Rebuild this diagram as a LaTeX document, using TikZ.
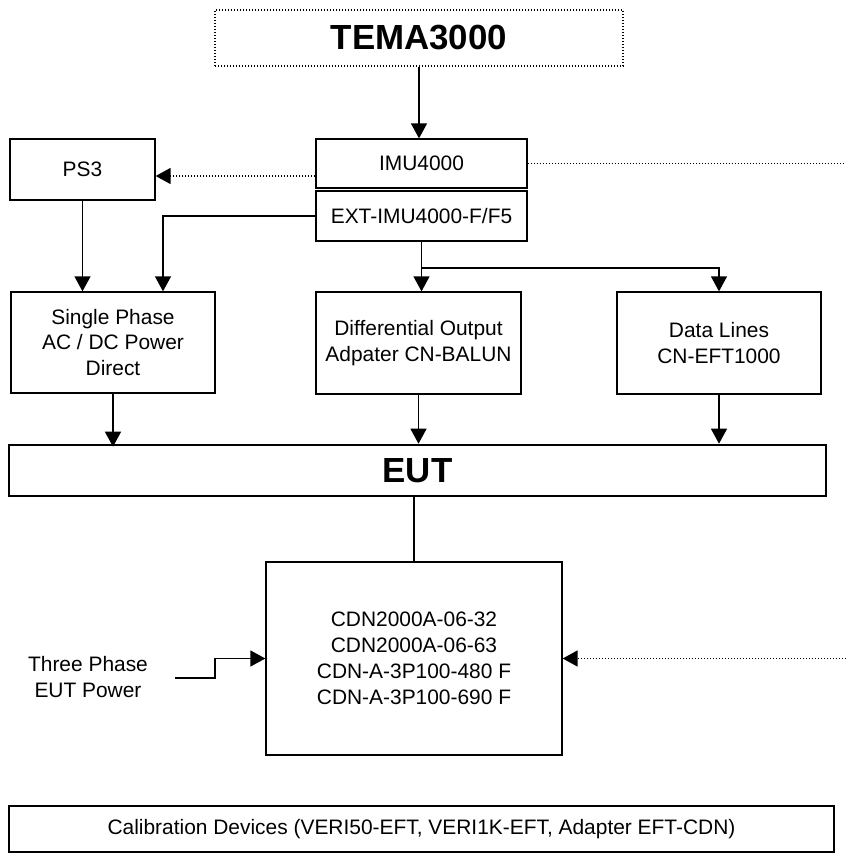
\documentclass[tikz,border=0pt]{standalone}
\usepackage{fontspec}
\setmainfont{Liberation Sans}
\usetikzlibrary{arrows.meta}
\begin{document}
\begin{tikzpicture}[x=1bp,y=-1bp,
  box/.style={draw,line width=1.3bp,inner sep=0pt,align=center,font=\fontsize{21}{26}\selectfont},
  bigtext/.style={font=\fontsize{35}{40}\selectfont\bfseries},
  arr/.style={line width=1.3bp,-{Triangle[width=16bp,length=15bp]}},
  dotln/.style={line width=1.5bp,dash pattern=on 1.4bp off 1.6bp},
  dotarr/.style={dotln,-{Triangle[width=16bp,length=15bp]}},
  plain/.style={line width=1.3bp}
]
\useasboundingbox (0,0) rectangle (846,854);

\node[box,dotln,bigtext,minimum width=408bp,minimum height=56bp] (TEMA) at (419,38) {TEMA3000};
\node[box,minimum width=211bp,minimum height=49bp] (IMU) at (421.5,163.5) {IMU4000};
\node[box,minimum width=211bp,minimum height=50bp] (EXT) at (421.5,216) {EXT-IMU4000-F/F5};
\node[box,minimum width=145bp,minimum height=61bp] (PS3) at (82.5,169.5) {PS3};
\node[box,minimum width=204bp,minimum height=101bp] (Single) at (113,342.5) {Single Phase\\AC / DC Power\\Direct};
\node[box,minimum width=205bp,minimum height=102bp] (Diff) at (418.5,343) {Differential Output\\Adpater CN-BALUN};
\node[box,minimum width=204bp,minimum height=102bp] (Data) at (719,343) {Data Lines\\CN-EFT1000};
\node[box,bigtext,line width=2.6bp,minimum width=817bp,minimum height=51bp] (EUT) at (417.5,470.5) {EUT};
\node[box,minimum width=296bp,minimum height=193bp] (CDN) at (414,658.5) {CDN2000A-06-32\\CDN2000A-06-63\\CDN-A-3P100-480 F\\CDN-A-3P100-690 F};
\node[align=center,inner sep=0pt,font=\fontsize{21}{26}\selectfont] (Three) at (88,677) {Three Phase\\EUT Power};
\node[box,minimum width=825bp,minimum height=46bp] (Cal) at (421.5,829) {Calibration Devices (VERI50-EFT, VERI1K-EFT, Adapter EFT-CDN)};

\coordinate (imuR) at (846,163.5);
\coordinate (cdnR) at (846,658.5);
\coordinate (tp) at (175,678);
\coordinate (tk) at (215,678);
\coordinate (extL) at (163,216);
\coordinate (psy) at (0,176);
\coordinate (bry) at (0,268);

\draw[arr] (TEMA.south) -- (TEMA.south |- IMU.north);
\draw[dotln] (IMU.east) -- (imuR);
\draw[dotarr] (IMU.west |- psy) -- (PS3.east |- psy);
\draw[arr] (PS3.south) -- (PS3.south |- Single.north);
\draw[arr] (EXT.west) -- (extL) -- (extL |- Single.north);
\draw[arr] (EXT.south) -- (EXT.south |- Diff.north);
\draw[arr] (EXT.south |- bry) -| (Data.north);
\draw[arr] (Single.south) -- ([yshift=-3bp]Single.south |- EUT.north);
\draw[arr] (Diff.south) -- (Diff.south |- EUT.north);
\draw[arr] (Data.south) -- (Data.south |- EUT.north);
\draw[plain] (EUT.south -| CDN.north) -- (CDN.north);
\draw[arr] (tp) -- (tk) |- (CDN.west);
\draw[dotarr] (cdnR) -- (CDN.east);
\end{tikzpicture}
\end{document}
